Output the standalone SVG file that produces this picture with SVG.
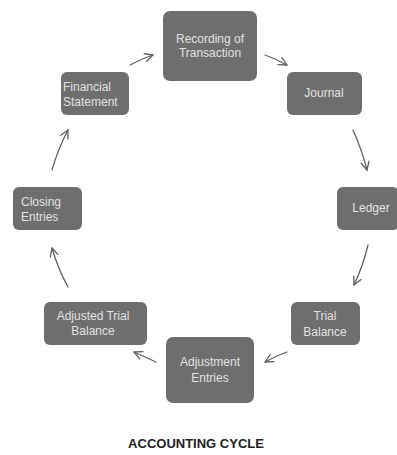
<svg xmlns="http://www.w3.org/2000/svg" width="397" height="455" viewBox="0 0 397 455">
<defs>
<style>
.box{fill:#6e6e6e;}
.t{font-family:"Liberation Sans",Arial,sans-serif;font-size:12px;fill:#e2e2e2;}
.c{text-anchor:middle;}
.a{fill:none;stroke:#606060;stroke-width:1.3;stroke-linecap:round;marker-end:url(#ah);}
.title{font-family:"Liberation Sans",Arial,sans-serif;font-size:13px;font-weight:bold;fill:#222;text-anchor:middle;}
</style>
<marker id="ah" viewBox="0 0 10 10" refX="9" refY="5" markerWidth="10" markerHeight="10" markerUnits="userSpaceOnUse" orient="auto">
<path d="M1,1 L9,5 L1,9" fill="none" stroke="#606060" stroke-width="1.3" stroke-linecap="round" stroke-linejoin="round"/>
</marker>
</defs>
<rect width="397" height="455" fill="#ffffff"/>
<g id="recording"><rect class="box" x="163" y="11" width="94" height="70" rx="7"/><text class="t c" x="210" y="43">Recording of</text><text class="t c" x="210" y="57">Transaction</text></g>
<g id="journal"><rect class="box" x="287" y="72" width="75" height="43" rx="6"/><text class="t c" x="324" y="97">Journal</text></g>
<g id="ledger"><rect class="box" x="337" y="187" width="62" height="43" rx="6"/><text class="t c" x="371" y="212">Ledger</text></g>
<g id="trial"><rect class="box" x="291" y="302" width="69" height="43" rx="6"/><text class="t c" x="325" y="320">Trial</text><text class="t c" x="325" y="336">Balance</text></g>
<g id="adjustment"><rect class="box" x="166" y="337" width="88" height="66" rx="7"/><text class="t c" x="210" y="366">Adjustment</text><text class="t c" x="210" y="382">Entries</text></g>
<g id="adjusted"><rect class="box" x="44" y="302" width="103" height="43" rx="6"/><text class="t c" x="93" y="320">Adjusted Trial</text><text class="t c" x="93" y="335">Balance</text></g>
<g id="closing"><rect class="box" x="13" y="187" width="69" height="43" rx="6"/><text class="t" x="21" y="206">Closing</text><text class="t" x="21" y="221">Entries</text></g>
<g id="financial"><rect class="box" x="61" y="72" width="68" height="43" rx="6"/><text class="t" x="63" y="91">Financial</text><text class="t" x="63" y="106">Statement</text></g>
<g id="connectors">
<path class="a" d="M265,55 Q276,59 287,65"/>
<path class="a" d="M353,130 Q362,150 367,170"/>
<path class="a" d="M368,245 Q363,266 354,285"/>
<path class="a" d="M287,352 Q276,356 265,362"/>
<path class="a" d="M156,362 Q145,357 134,352"/>
<path class="a" d="M68,287 Q58,269 52,248"/>
<path class="a" d="M52,170 Q58,149 68,130"/>
<path class="a" d="M130,65 Q141,59 153,55"/>
</g>
<text class="title" x="196" y="448">ACCOUNTING CYCLE</text>
</svg>
